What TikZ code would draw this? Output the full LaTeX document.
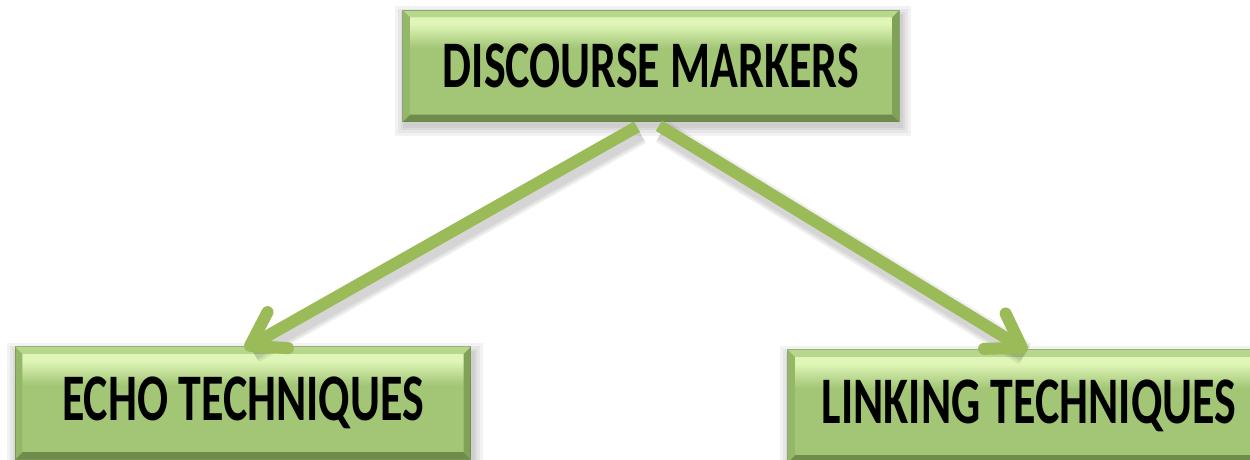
\documentclass[tikz,border=0pt]{standalone}
\usepackage{fontspec}
\usepackage{graphicx}
\setmainfont{Carlito}
\usetikzlibrary{calc}

\pgfdeclarelayer{background}
\pgfsetlayers{background,main}

% palette
\definecolor{faceMain}{HTML}{A2C676}
\definecolor{faceTop}{HTML}{E0F6B8}
\definecolor{bevTop}{HTML}{B7D88C}
\definecolor{bevLeft}{HTML}{93B867}
\definecolor{bevRight}{HTML}{80A258}
\definecolor{bevBot}{HTML}{6F8C4C}
\definecolor{arrowGreen}{HTML}{9BBB59}

% glossy face of a box: highlight just under the top bevel
\pgfdeclareverticalshading{boxface}{100bp}{%
  color(0bp)=(faceMain); color(58bp)=(faceMain);
  color(69bp)=(faceTop); color(100bp)=(faceTop)}

\tikzset{
  boxtext/.style={inner sep=0pt, text=black,
    font=\bfseries\fontsize{45.9}{50}\selectfont},
  link/.style={draw=arrowGreen, line width=12pt, line cap=butt},
  barb/.style={draw=arrowGreen, line width=12pt, line cap=round, line join=round},
  linkshadow/.style={draw=black, line width=#1, line cap=butt,
    opacity=0.06},
}

% bevelled box with drop shadow, drawn behind the node #1
\newcommand\bevelbox[1]{%
  \begin{pgfonlayer}{background}
    \foreach \s in {9,6,3,1}{%
      \fill[black, opacity=0.05]
        ($(#1.north west)+(-\s+1,-\s+5)$) rectangle ($(#1.south east)+(\s+3,\s+5)$);}
    \shade[shading=boxface] (#1.north west) rectangle (#1.south east);
    \fill[bevTop] (#1.north west) -- (#1.north east)
      -- ($(#1.north east)+(-7,7)$) -- ($(#1.north west)+(7,7)$) -- cycle;
    \fill[bevBot] (#1.south west) -- (#1.south east)
      -- ($(#1.south east)+(-7,-7)$) -- ($(#1.south west)+(7,-7)$) -- cycle;
    \fill[bevLeft] (#1.north west) -- ($(#1.north west)+(7,7)$)
      -- ($(#1.south west)+(7,-7)$) -- (#1.south west) -- cycle;
    \fill[bevRight] (#1.north east) -- ($(#1.north east)+(-7,7)$)
      -- ($(#1.south east)+(-7,-7)$) -- (#1.south east) -- cycle;
    \draw[bevBot!80!black, line width=1pt, opacity=0.5]
      (#1.north west) rectangle (#1.south east);
  \end{pgfonlayer}}

% open chevron head at the end #2 of the connector coming from #1
\newcommand\chevron[2]{%
  \draw[barb] ($(#2)!38pt!33:(#1)$) -- (#2) -- ($(#2)!38pt!-33:(#1)$);}

\begin{document}
\begin{tikzpicture}[x=1pt, y=-1pt]
  \useasboundingbox (0,0) rectangle (1250,459);

  \node[boxtext, minimum width=496pt, minimum height=111pt] (dm) at (651,66)
    {\scalebox{1}[1.45]{DISCOURSE MARKERS}};
  \node[boxtext, minimum width=455pt, minimum height=112pt] (echo) at (243,403)
    {\scalebox{1}[1.45]{ECHO TECHNIQUES}};
  \node[boxtext, minimum width=482pt, minimum height=112pt] (linking) at (1029,406)
    {\scalebox{1}[1.45]{LINKING TECHNIQUES}};

  \bevelbox{dm}
  \bevelbox{echo}
  \bevelbox{linking}

  % arrow ends
  \coordinate (lstart) at ($(dm.south)+(-14,5)$);
  \coordinate (rstart) at ($(dm.south)+(8,4)$);
  \coordinate (ltip) at ($(echo.north)+(7,-1)$);
  \coordinate (rtip) at ($(linking.north)+(-7,-2)$);

  % soft shadows under the arrows
  \foreach \w in {24pt,20pt,16pt}{
    \draw[linkshadow=\w] ($(lstart)+(3,6)$) -- ($(ltip)+(3,6)$);
    \draw[linkshadow=\w] ($(rstart)+(3,6)$) -- ($(rtip)+(3,6)$);
  }

  \draw[link] (lstart) -- (ltip);
  \draw[link] (rstart) -- (rtip);
  \chevron{lstart}{ltip}
  \chevron{rstart}{rtip}
\end{tikzpicture}
\end{document}
